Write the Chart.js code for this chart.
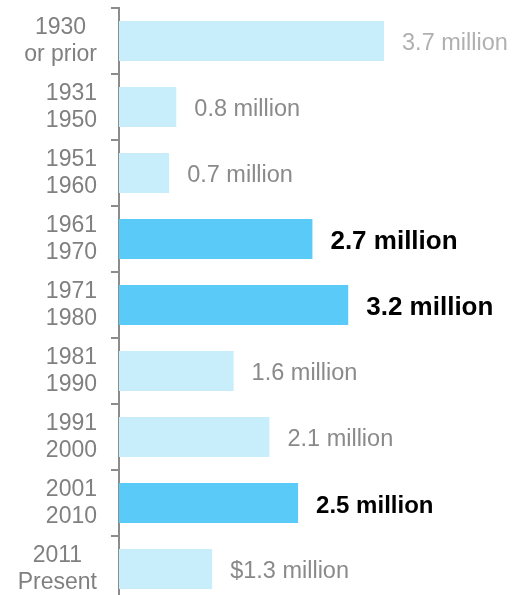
<!DOCTYPE html>
<html>
<head>
<meta charset="utf-8">
<script src="https://cdn.jsdelivr.net/npm/chart.js@4"></script>
<style>
  html, body { margin: 0; padding: 0; background: #fff; overflow: hidden; }
  #wrap { position: relative; width: 516px; height: 610px; }
</style>
</head>
<body>
<div id="wrap"><canvas id="c"></canvas></div>
<script>
const categories = [
  ["1930", "or prior"],
  ["1931", "1950"],
  ["1951", "1960"],
  ["1961", "1970"],
  ["1971", "1980"],
  ["1981", "1990"],
  ["1991", "2000"],
  ["2001", "2010"],
  ["2011", "Present"]
];
const values = [3.7, 0.8, 0.7, 2.7, 3.2, 1.6, 2.1, 2.5, 1.3];
const valueLabels = ["3.7 million", "0.8 million", "0.7 million", "2.7 million", "3.2 million",
                     "1.6 million", "2.1 million", "2.5 million", "$1.3 million"];
const highlighted = [false, false, false, true, true, false, false, true, false];
const labelKind = ["faint", "plain", "plain", "strong", "strong", "plain", "plain", "bold", "plain"];

const FONT = "'Liberation Sans', Arial, Helvetica, sans-serif";
const labelStyles = {
  faint:  { font: "23.5px " + FONT, color: "#b0b0b0" },
  plain:  { font: "23.5px " + FONT, color: "#8a8a8a" },
  strong: { font: "bold 26px " + FONT, color: "#000000" },
  bold:   { font: "bold 24px " + FONT, color: "#000000" }
};

const valueLabelPlugin = {
  id: "valueLabels",
  afterDatasetsDraw(chart) {
    const ctx = chart.ctx;
    const meta = chart.getDatasetMeta(0);
    ctx.save();
    ctx.textAlign = "left";
    ctx.textBaseline = "middle";
    meta.data.forEach((bar, i) => {
      const st = labelStyles[labelKind[i]];
      ctx.font = st.font;
      ctx.fillStyle = st.color;
      ctx.fillText(valueLabels[i], bar.x + 18, bar.y + 3);
    });
    ctx.restore();
  }
};

// Category labels: each two-line block is right-aligned, its lines centred on each other.
const categoryLabelPlugin = {
  id: "categoryLabels",
  afterDraw(chart) {
    const ctx = chart.ctx;
    const scale = chart.scales.y;
    const right = scale.right - 8 - 14;
    const lineH = 27;
    ctx.save();
    ctx.font = "23px " + FONT;
    ctx.fillStyle = "#808080";
    ctx.textAlign = "center";
    ctx.textBaseline = "middle";
    categories.forEach((lines, i) => {
      const yc = scale.getPixelForTick(i);
      const w = Math.max(...lines.map(t => ctx.measureText(t).width));
      const xc = right - w / 2;
      lines.forEach((t, j) => {
        ctx.fillText(t, xc, yc + (j - (lines.length - 1) / 2) * lineH);
      });
    });
    ctx.restore();
  }
};

new Chart(document.getElementById("c"), {
  type: "bar",
  data: {
    labels: categories,
    datasets: [{
      data: values,
      backgroundColor: highlighted.map(h => h ? "#5acbf8" : "#c8eefc"),
      borderWidth: 0,
      barPercentage: 0.606,
      categoryPercentage: 1.0
    }]
  },
  options: {
    indexAxis: "y",
    responsive: true,
    maintainAspectRatio: false,
    animation: false,
    layout: { padding: { top: 8, bottom: 8, right: 3, left: 0 } },
    plugins: { legend: { display: false }, tooltip: { enabled: false } },
    scales: {
      x: {
        display: false,
        min: 0,
        max: 5.5
      },
      y: {
        afterFit(scale) {
          scale.width = 119;
          scale.paddingTop = 0;
          scale.paddingBottom = 0;
        },
        grid: {
          drawOnChartArea: false,
          drawTicks: true,
          tickLength: 8,
          color: "#8c8c8c",
          lineWidth: 2,
          offset: true
        },
        border: { display: true, color: "#8c8c8c", width: 2 },
        ticks: {
          padding: 14,
          color: "rgba(0,0,0,0)",
          font: { family: FONT, size: 23, lineHeight: 1.17 }
        }
      }
    }
  },
  plugins: [valueLabelPlugin, categoryLabelPlugin]
});
</script>
</body>
</html>
